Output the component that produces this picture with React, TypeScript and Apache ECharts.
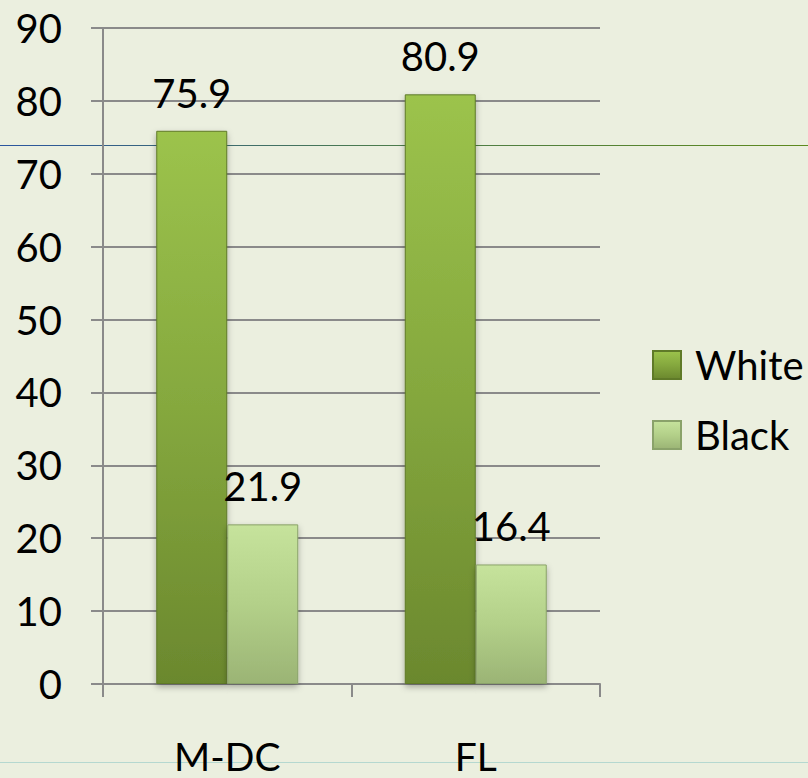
import React, { useEffect, useRef } from "react";
import * as echarts from "echarts";

const categories = ["M-DC", "FL"];
const whiteValues = [75.9, 80.9];
const blackValues = [21.9, 16.4];
const seriesNames = ["White", "Black"];

const FONT = "Lato, 'Open Sans', sans-serif";

export default function App() {
  const ref = useRef<HTMLDivElement>(null);
  useEffect(() => {
    document.body.style.margin = "0";
    const chart = echarts.init(ref.current!, null, { renderer: "svg" });
    const labelStyle = {
      show: true,
      position: "top" as const,
      distance: 18,
      color: "#000",
      fontSize: 40,
      fontFamily: FONT,
    };
    chart.setOption({
      animation: false,
      backgroundColor: "#EBEFDF",
      textStyle: { fontFamily: FONT },
      grid: { left: 103, right: 208, top: 28, bottom: 94, containLabel: false },
      graphic: [
        {
          type: "line",
          z: -10,
          silent: true,
          shape: { x1: 0, y1: 145.5, x2: 808, y2: 145.5 },
          style: {
            lineWidth: 1.2,
            stroke: new echarts.graphic.LinearGradient(
              0,
              0,
              808,
              0,
              [
                { offset: 0, color: "#2a55a0" },
                { offset: 0.45, color: "#4a7a50" },
                { offset: 1, color: "#5e8a1e" },
              ],
              true
            ),
          },
        },
        {
          type: "line",
          z: -10,
          silent: true,
          shape: { x1: 0, y1: 762.5, x2: 808, y2: 762.5 },
          style: { lineWidth: 1, stroke: "#b5d8d0" },
        },
      ],
      legend: {
        orient: "vertical",
        left: 647,
        top: 340,
        itemWidth: 28,
        itemHeight: 28,
        itemGap: 30,
        icon: "rect",
        data: seriesNames,
        textStyle: {
          fontSize: 40,
          color: "#000",
          fontFamily: FONT,
          padding: [0, 0, 0, 9],
        },
      },
      xAxis: {
        type: "category",
        data: categories,
        axisLine: { lineStyle: { color: "#8a8a8a", width: 2 } },
        axisTick: { show: true, length: 13, lineStyle: { color: "#8a8a8a", width: 2 } },
        axisLabel: {
          fontSize: 39,
          lineHeight: 39,
          color: "#000",
          margin: 52,
          fontFamily: FONT,
        },
      },
      yAxis: {
        type: "value",
        min: 0,
        max: 90,
        interval: 10,
        axisLine: { show: true, lineStyle: { color: "#8a8a8a", width: 2 } },
        axisTick: { show: true, length: 12, lineStyle: { color: "#8a8a8a", width: 2 } },
        splitLine: { lineStyle: { color: "#8a8a8a", width: 2 } },
        axisLabel: { fontSize: 40, color: "#000", margin: 41, fontFamily: FONT },
      },
      series: [
        {
          name: seriesNames[0],
          type: "bar",
          data: whiteValues,
          barWidth: 71,
          barGap: "0%",
          label: labelStyle,
          itemStyle: {
            color: new echarts.graphic.LinearGradient(0, 0, 0, 1, [
              { offset: 0, color: "#9cc34c" },
              { offset: 0.5, color: "#85a83e" },
              { offset: 1, color: "#6b882e" },
            ]),
            borderColor: "#5f7a28",
            borderWidth: 1,
            shadowColor: "rgba(0,0,0,0.3)",
            shadowBlur: 6,
            shadowOffsetY: 3,
          },
        },
        {
          name: seriesNames[1],
          type: "bar",
          data: blackValues,
          barWidth: 71,
          label: labelStyle,
          itemStyle: {
            color: new echarts.graphic.LinearGradient(0, 0, 0, 1, [
              { offset: 0, color: "#c6e39c" },
              { offset: 0.5, color: "#b3d089" },
              { offset: 1, color: "#9bb475" },
            ]),
            borderColor: "#8aa26a",
            borderWidth: 1,
            shadowColor: "rgba(0,0,0,0.3)",
            shadowBlur: 6,
            shadowOffsetY: 3,
          },
        },
      ],
    });
    return () => chart.dispose();
  }, []);
  return (
    <div
      ref={ref}
      style={{ position: "fixed", left: 0, top: 0, width: 808, height: 778 }}
    />
  );
}
